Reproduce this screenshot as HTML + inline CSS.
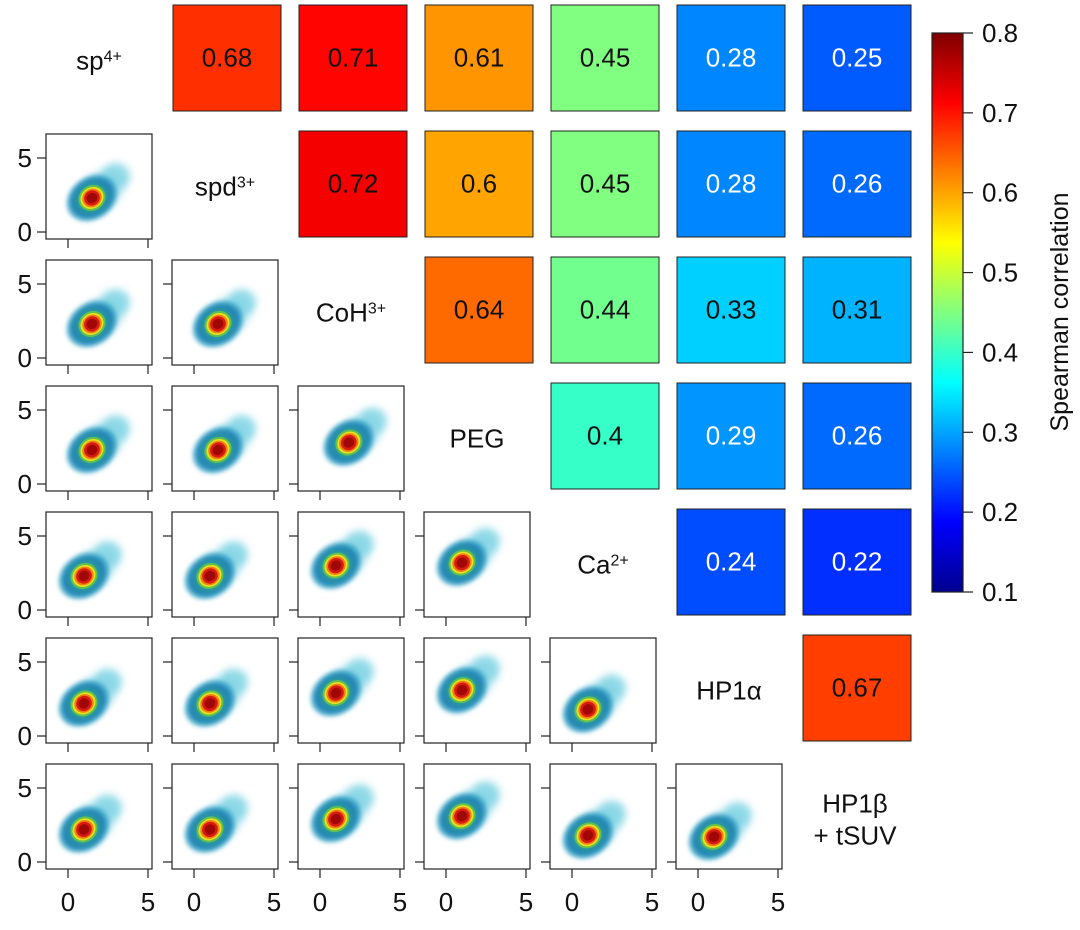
<!DOCTYPE html>
<html><head><meta charset="utf-8"><style>
body{margin:0;background:#fff;width:1080px;height:925px;overflow:hidden;font-family:"Liberation Sans",sans-serif}
</style></head><body>
<svg id="c" width="1080" height="925" xmlns="http://www.w3.org/2000/svg" font-family="Liberation Sans, DejaVu Sans, sans-serif">
<defs>
<filter id="bl" x="-50%" y="-50%" width="200%" height="200%"><feGaussianBlur stdDeviation="2.5"/></filter>
<filter id="bl2" x="-50%" y="-50%" width="200%" height="200%"><feGaussianBlur stdDeviation="4"/></filter>
<linearGradient id="jet" x1="0" y1="1" x2="0" y2="0">
<stop offset="0" stop-color="#00008f"/><stop offset="0.125" stop-color="#0000ff"/><stop offset="0.375" stop-color="#00ffff"/><stop offset="0.5" stop-color="#80ff80"/><stop offset="0.625" stop-color="#ffff00"/><stop offset="0.875" stop-color="#ff0000"/><stop offset="1" stop-color="#800000"/>
</linearGradient>
</defs>
</svg>
<script>
const labels=["sp<tspan baseline-shift='super' font-size='16'>4+</tspan>","spd<tspan baseline-shift='super' font-size='16'>3+</tspan>","CoH<tspan baseline-shift='super' font-size='16'>3+</tspan>","PEG","Ca<tspan baseline-shift='super' font-size='16'>2+</tspan>","HP1α","HP1β"];
const corr=[
[null,0.68,0.71,0.61,0.45,0.28,0.25],
[null,null,0.72,0.6,0.45,0.28,0.26],
[null,null,null,0.64,0.44,0.33,0.31],
[null,null,null,null,0.4,0.29,0.26],
[null,null,null,null,null,0.24,0.22],
[null,null,null,null,null,null,0.67]];
const densX=[[],[1.5],[1.5,1.5],[1.5,1.5,1.8],[1,1,1,1],[1,1,1,1,1],[1,1,1,1,1,1]];
const densY=[[],[2.3],[2.3,2.3],[2.3,2.3,2.8],[2.3,2.3,3,3.2],[2.2,2.2,2.9,3.1,1.8],[2.2,2.2,2.9,3.1,1.8,1.7]];
const cbTicks=[0.1,0.2,0.3,0.4,0.5,0.6,0.7,0.8];
const NS="http://www.w3.org/2000/svg";
const svg=document.getElementById('c');
function mk(t,a,p){const e=document.createElementNS(NS,t);for(const k in a)e.setAttribute(k,a[k]);(p||svg).appendChild(e);return e;}
function jet(v){const t=(v-0.1)/0.7;const c=x=>Math.round(255*Math.max(0,Math.min(1,1.5-Math.abs(4*t-x))));return `rgb(${c(3)},${c(2)},${c(1)})`;}
const colX=i=>46+i*126, rowY=i=>8+i*126;
const W=106,H=105;
const px=(i,v)=>colX(i)+22+v*16, py=(j,v)=>rowY(j)+H-7-v*14.8;
for(let i=0;i<7;i++){
  const cx=colX(i)+W/2, cy=rowY(i)+H/2+9;
  const t=mk('text',{x:cx,y:i==6?cy-13:cy,'text-anchor':'middle','font-size':26,fill:'#111'});
  
  
  t.innerHTML=labels[i];
  if(i==6){const t2=mk('text',{x:cx,y:cy+19,'text-anchor':'middle','font-size':26,fill:'#111'});t2.textContent='+ tSUV';
  
  }
}
for(let r=0;r<6;r++)for(let c=0;c<7;c++){const v=corr[r][c];if(v==null)continue;
  const g=mk('g',{});
  
  
  mk('rect',{x:colX(c)+1,y:rowY(r)-3,width:W+2,height:H+1,fill:jet(v),stroke:'#222','stroke-width':1},g);
  const tx=mk('text',{x:colX(c)+1+(W+2)/2,y:rowY(r)-3+H/2+9,'text-anchor':'middle','font-size':26,fill:v<0.3?'#fff':'#111'},g);
  tx.textContent=String(v);
}
for(let r=1;r<7;r++)for(let c=0;c<r;c++){
  const g=mk('g',{});
  
  
  const id='cl'+r+c;const cp=mk('clipPath',{id:id},g);mk('rect',{x:colX(c),y:rowY(r),width:W,height:H},cp);
  const d=mk('g',{'clip-path':`url(#${id})`},g);
  const X=px(c,densX[r][c]),Y=py(r,densY[r][c]);
  mk('ellipse',{cx:X+24,cy:Y-22,rx:14,ry:13,fill:'#5cc8dc',opacity:0.6,filter:'url(#bl2)'},d);
  mk('ellipse',{cx:X+8,cy:Y-6,rx:30,ry:18,fill:'#7fd3e4',opacity:0.6,filter:'url(#bl2)',transform:`rotate(-40 ${X+8} ${Y-6})`},d);
  const rot=`rotate(-35 ${X} ${Y})`;
  const layers=[[27,21,'#3aa6c8',0.8],[23,18,'#1d7fb0',0.9],[17,15,'#2a9aa0',1],[14,12.5,'#60c050',1],[12,10.5,'#e8e020',1],[10,9,'#f08010',1],[8,7.5,'#d81a10',1],[5.5,5,'#a00808',1]];
  layers.forEach((l,k)=>mk('ellipse',{cx:X,cy:Y,rx:l[0],ry:l[1],fill:l[2],opacity:l[3],transform:rot,filter:k<3?'url(#bl)':'none'},d));
  mk('rect',{x:colX(c),y:rowY(r),width:W,height:H,fill:'none',stroke:'#222','stroke-width':1.2},g);
  [0,5].forEach(v=>{
    mk('line',{x1:colX(c)-9,x2:colX(c),y1:py(r,v),y2:py(r,v),stroke:'#222','stroke-width':1.2},g);
    mk('line',{x1:px(c,v),x2:px(c,v),y1:rowY(r)+H,y2:rowY(r)+H+9,stroke:'#222','stroke-width':1.2},g);
    if(c==0){const t=mk('text',{x:colX(c)-14,y:py(r,v)+9,'text-anchor':'end','font-size':26,fill:'#111'},g);t.textContent=v;}
    if(r==6){const t=mk('text',{x:px(c,v),y:rowY(r)+H+42,'text-anchor':'middle','font-size':26,fill:'#111'},g);t.textContent=v;}
  });
}
const cb=mk('g',{});


const cbTop=33,cbBot=592,cbv=v=>cbBot-(v-0.1)/0.7*(cbBot-cbTop);
mk('rect',{x:932,y:cbTop,width:31,height:cbBot-cbTop,fill:'url(#jet)',stroke:'#222','stroke-width':1.2},cb);
cbTicks.forEach(v=>{const y=cbv(v);mk('line',{x1:963,x2:973,y1:y,y2:y,stroke:'#222','stroke-width':1.2},cb);
  const t=mk('text',{x:982,y:y+9,'font-size':26,fill:'#111'},cb);t.textContent=v.toFixed(1);});
const lab=mk('text',{x:1068,y:312,'text-anchor':'middle','font-size':25,fill:'#111',transform:'rotate(-90 1068 312)'});


lab.textContent='Spearman correlation';
</script>
</body></html>
